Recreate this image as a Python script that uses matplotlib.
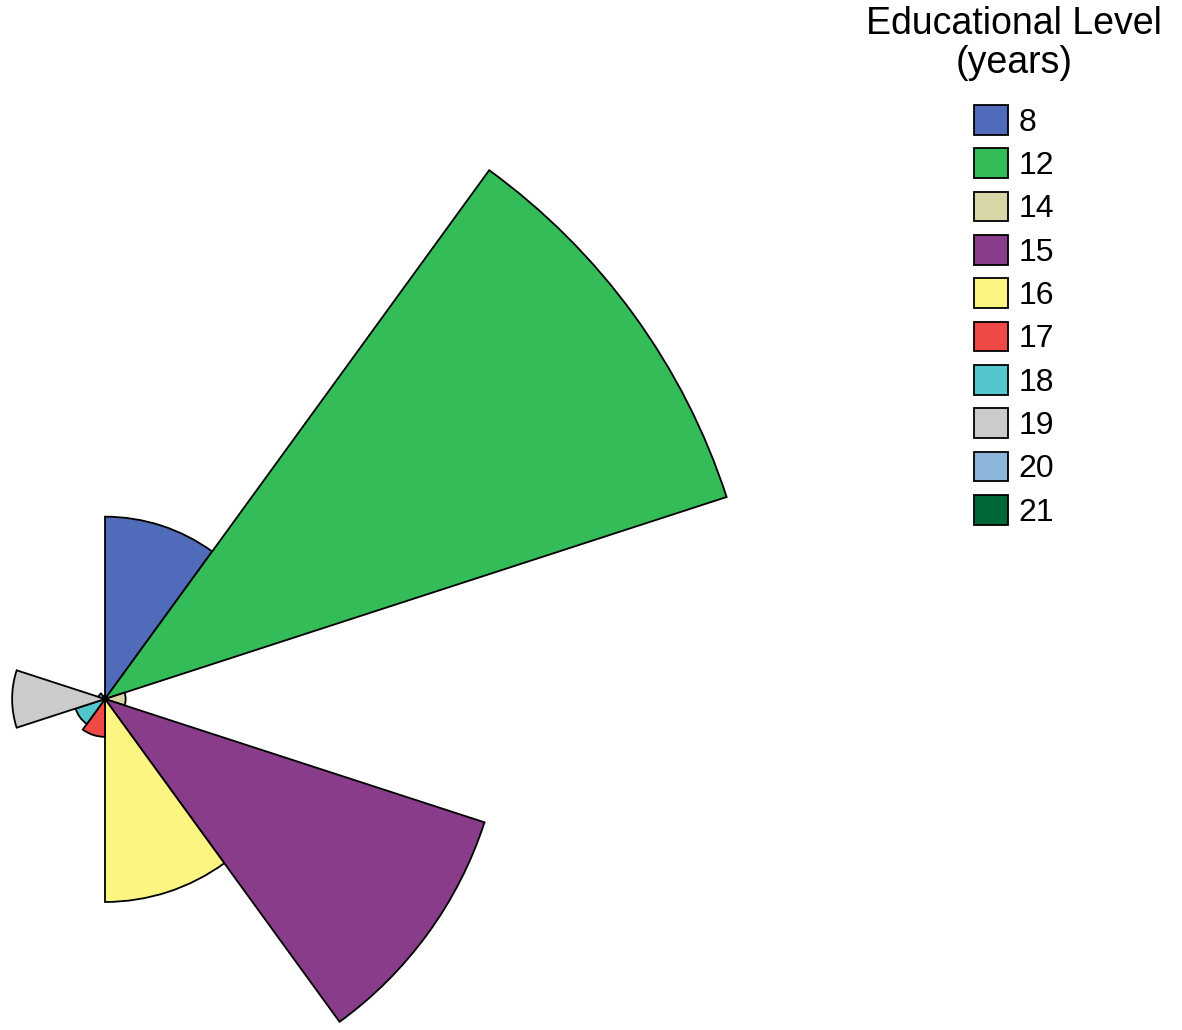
import numpy as np
import matplotlib
matplotlib.use("Agg")
import matplotlib.pyplot as plt
from matplotlib.patches import Patch

# Educational level (years) and number of employees at each level
levels = ["8", "12", "14", "15", "16", "17", "18", "19", "20", "21"]
counts = [53, 190, 6, 116, 59, 11, 9, 27, 2, 1]
colors = ["#4F6BBA", "#33BC58", "#D8D5A6", "#893C8A", "#FCF582",
          "#EF4A45", "#52C6CC", "#CBCBCB", "#8BB6DA", "#006837"]

plt.rcParams["font.family"] = ["Liberation Sans", "DejaVu Sans"]

W, H, DPI = 1182, 1030, 100
fig = plt.figure(figsize=(W / DPI, H / DPI), dpi=DPI)

# polar axes placed so the pole sits near the left edge
cx, cy = 105, 699          # pole position in pixels (from top-left)
px_per_unit = 3.44
rlim = 200
half = px_per_unit * rlim
ax = fig.add_axes([(cx - half) / W, (H - cy - half) / H, 2 * half / W, 2 * half / H],
                  projection="polar")
ax.set_theta_zero_location("N")
ax.set_theta_direction(-1)

n = len(levels)
width = 2 * np.pi / n
theta = np.arange(n) * width + width / 2
bars = ax.bar(theta, counts, width=width, bottom=0, color=colors,
              edgecolor="black", linewidth=1.3, align="center")
ax.set_ylim(0, rlim)
ax.set_axis_off()
ax.patch.set_alpha(0)

handles = [Patch(facecolor=c, edgecolor="black", linewidth=1.3) for c in colors]
leg = fig.legend(handles, levels, title="Educational Level\n(years)",
                 loc="upper center", bbox_to_anchor=(1014 / W, 1.0),
                 frameon=False, fontsize=23, title_fontsize=27,
                 handlelength=1.06, handleheight=1.06, labelspacing=0.33,
                 handletextpad=0.35, borderaxespad=0, borderpad=0.2)
leg.get_title().set_multialignment("center")
leg.get_title().set_linespacing(1.1)
leg._legend_box.sep = 17

fig.savefig("out.png", dpi=DPI)
